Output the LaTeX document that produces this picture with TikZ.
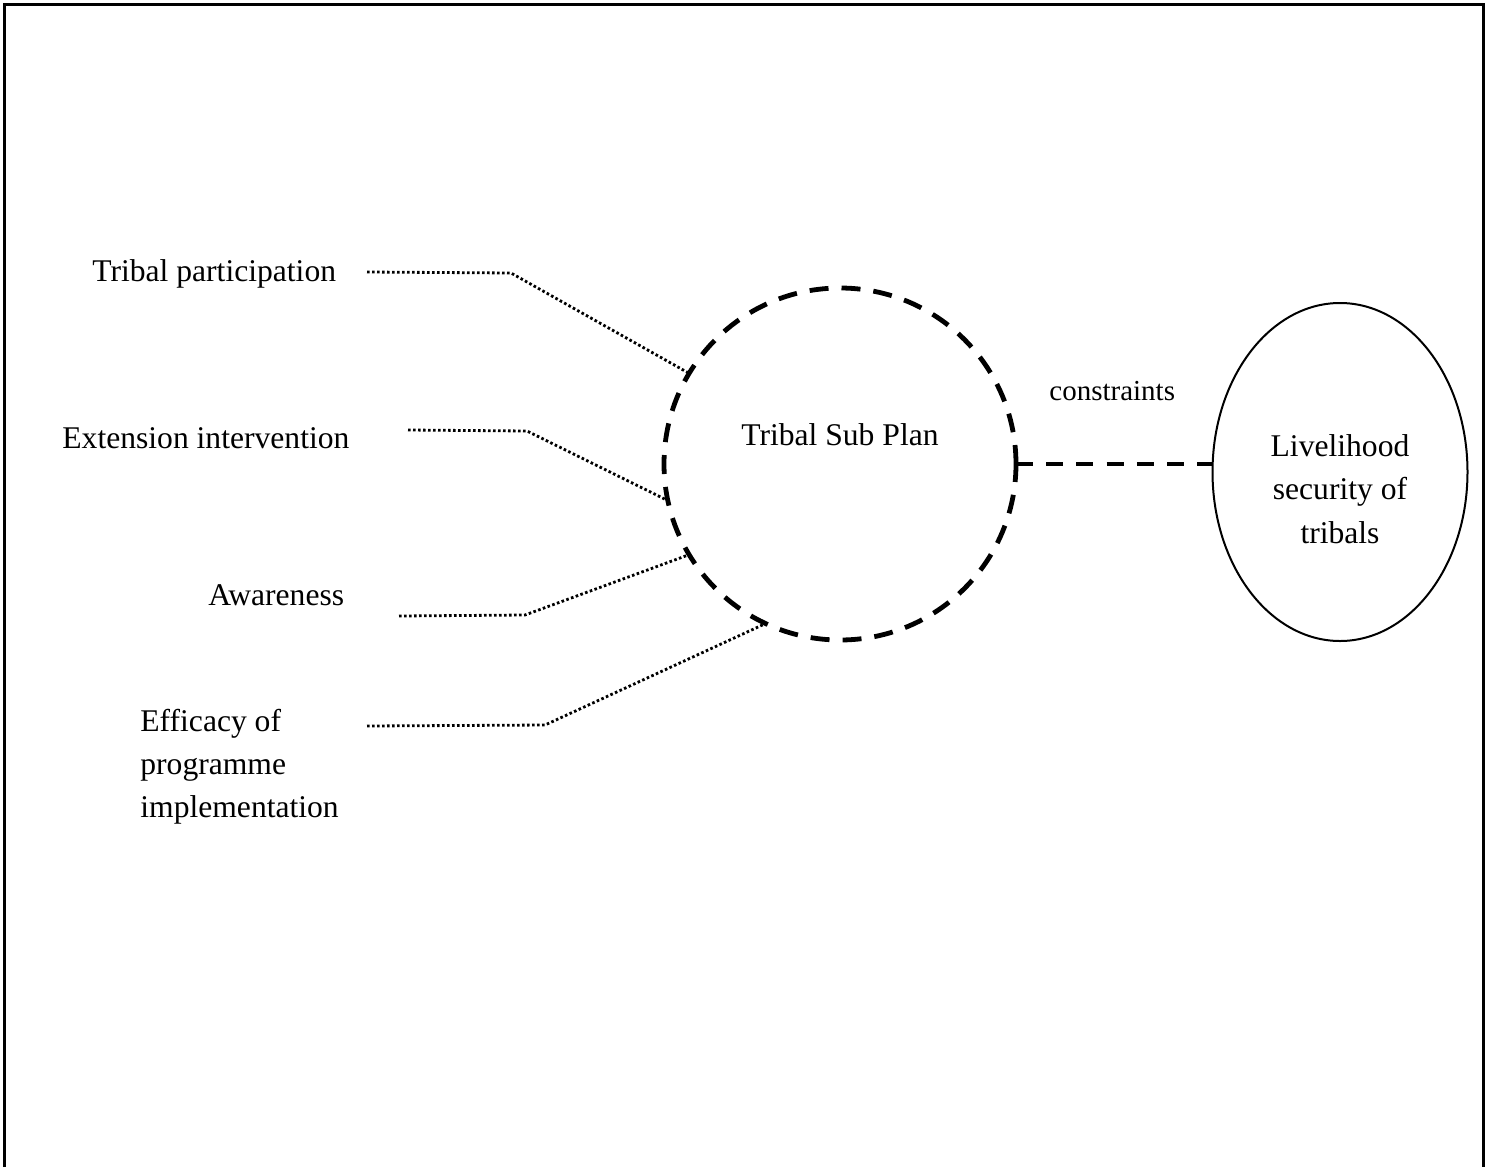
\documentclass[tikz,border=0pt]{standalone}
\usepackage{fontspec}
\setmainfont{Liberation Serif}
\usetikzlibrary{shapes.geometric}
\tikzset{
  txt/.style={inner sep=0pt, font=\fontsize{15.8pt}{21.6pt}\selectfont},
  plan/.style={circle, draw, line width=2.4pt, dash pattern=on 9.5pt off 6.5pt,
    minimum size=176pt, inner sep=0pt, outer sep=0pt},
  goal/.style={ellipse, draw, line width=1pt, minimum width=127.5pt,
    minimum height=169pt, inner sep=0pt, outer sep=0pt},
  dots/.style={line width=1.4pt, dash pattern=on 1.3pt off 1.2pt},
  link/.style={line width=2.2pt, dash pattern=on 8.5pt off 6.6pt}
}
\begin{document}
\begin{tikzpicture}[x=0.5pt,y=-0.5pt]
\useasboundingbox (0,0) rectangle (1493,1167);
\draw [line width=1.5pt] (4,1167) -- (4,4) -- (1483,4) -- (1483,1167);

% centre and goal
\node (plan) [plan] at (840,464) {};
\node (plantext) [txt, anchor=base] at (840,445) {Tribal Sub Plan};
\node (live) [goal] at (1340,472) {};
\node (livetext) [txt, align=center] at (1340,489) {Livelihood\\security of\\tribals};
\node (constr) [txt, anchor=base west, font=\fontsize{14.5pt}{18pt}\selectfont] at (1049,400) {constraints};
\draw [link] (plan.east) -- (plan.east -| live.west);

% factors
\node (part) [txt, anchor=base west] at (92,281) {Tribal participation};
\node (ext) [txt, anchor=base west] at (62,448) {Extension intervention};
\node (aware) [txt, anchor=base west] at (208,605) {Awareness};
\node (effic) [txt, anchor=west, align=left] at (140,767) {Efficacy of\\programme\\implementation};

\coordinate (s1) at (367,272);
\coordinate (k1) at (511,273);
\coordinate (s2) at (408,430);
\coordinate (k2) at (527,431);
\coordinate (s3) at (399,616);
\coordinate (k3) at (525,615);
\coordinate (s4) at (367,726);
\coordinate (k4) at (545,725);

\draw [dots] (s1) -- (k1) -- (plan.149);
\draw [dots] (s2) -- (k2) -- (plan.192);
\draw [dots] (s3) -- (k3) -- (plan.211);
\draw [dots] (s4) -- (k4) -- (plan.245);
\end{tikzpicture}
\end{document}
